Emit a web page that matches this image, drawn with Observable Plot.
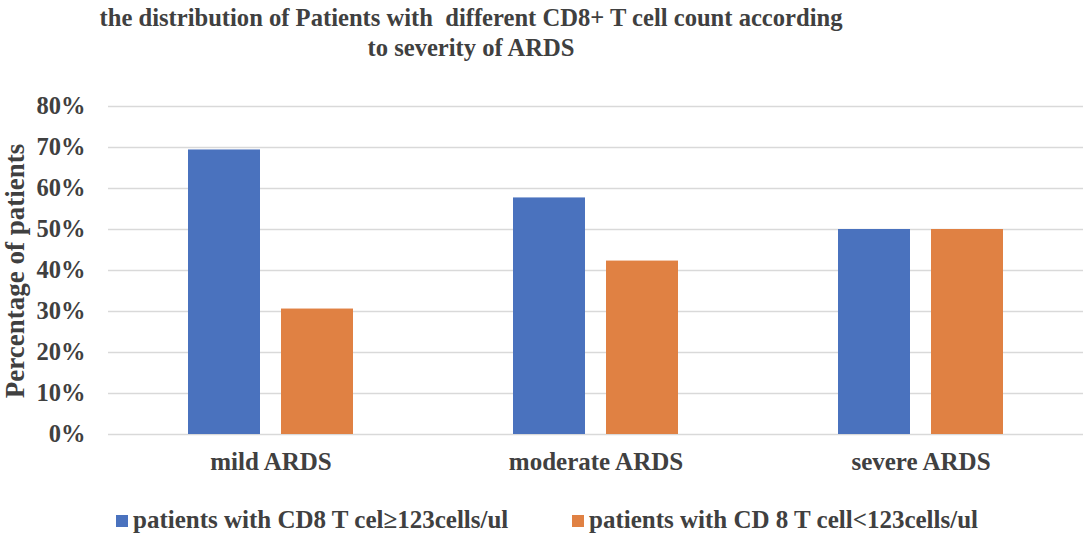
<!DOCTYPE html>
<html>
<head>
<meta charset="utf-8">
<script src="https://cdn.jsdelivr.net/npm/d3@7"></script>
<script src="https://cdn.jsdelivr.net/npm/@observablehq/plot@0.6"></script>
<style>
  html, body { margin: 0; padding: 0; background: #fff; }
  #wrap { position: relative; width: 1084px; height: 536px; overflow: hidden;
          font-family: "Liberation Serif", "Times New Roman", serif; font-weight: bold; color: #404040; }
  #title { position: absolute; left: 0; width: 942px; top: 3px; text-align: center;
           font-size: 24.6px; line-height: 30px; }
  #ylabel { position: absolute; left: 15px; top: 271px; transform: translate(-50%, -50%) rotate(-90deg);
            white-space: nowrap; font-size: 27px; }
  #chart { position: absolute; left: 0; top: 75px; }
  .leg { position: absolute; top: 506px; font-size: 25px; white-space: nowrap; line-height: 28px; }
  .sw { display: inline-block; width: 12px; height: 12px; margin-right: 5px; vertical-align: 1px; }
</style>
</head>
<body>
<div id="wrap">
  <div id="title">the distribution of Patients with&nbsp; different CD8+ T cell count according<br>to severity of ARDS</div>
  <div id="ylabel">Percentage of patients</div>
  <div id="chart"></div>
  <div id="legend"></div>
</div>
<script>
const categories = ["mild ARDS", "moderate ARDS", "severe ARDS"];
const seriesNames = ["patients with CD8 T cel≥123cells/ul", "patients with CD 8 T cell<123cells/ul"];
const highCountValues = [69.4, 57.7, 50.0];
const lowCountValues = [30.6, 42.3, 50.0];
const yTicks = [0, 10, 20, 30, 40, 50, 60, 70, 80];
const colors = ["#4A72BE", "#E08143"];

const data = [];
categories.forEach((c, i) => {
  data.push({category: c, series: seriesNames[0], value: highCountValues[i]});
  data.push({category: c, series: seriesNames[1], value: lowCountValues[i]});
});

const chart = Plot.plot({
  width: 1084,
  height: 420,
  marginLeft: 107,
  marginRight: 1,
  marginTop: 31,
  marginBottom: 61,
  style: {fontFamily: "Liberation Serif, serif", fontWeight: "bold", fontSize: "24.5px", color: "#404040", background: "transparent"},
  fx: {domain: categories, padding: 0, label: null},
  x: {domain: seriesNames, paddingInner: 0.226, paddingOuter: 0.86, axis: null},
  y: {domain: [0, 80], label: null},
  color: {domain: seriesNames, range: colors},
  marks: [
    Plot.gridY(yTicks, {stroke: "#d9d9d9", strokeOpacity: 1, strokeWidth: 1.5}),
    Plot.barY(data, {fx: "category", x: "series", y: "value", fill: "series"}),
    Plot.axisY(yTicks, {tickSize: 0, tickPadding: 23, tickFormat: d => d + "%", label: null}),
    Plot.axisFx({anchor: "bottom", tickSize: 0, tickPadding: 18, fontSize: 25, label: null})
  ]
});
document.getElementById("chart").appendChild(chart);

const legend = document.getElementById("legend");
const legX = [116, 572];
seriesNames.forEach((s, i) => {
  const d = document.createElement("div");
  d.className = "leg";
  d.style.left = legX[i] + "px";
  const sw = document.createElement("span");
  sw.className = "sw";
  sw.style.background = colors[i];
  d.appendChild(sw);
  d.appendChild(document.createTextNode(s));
  legend.appendChild(d);
});
</script>
</body>
</html>
